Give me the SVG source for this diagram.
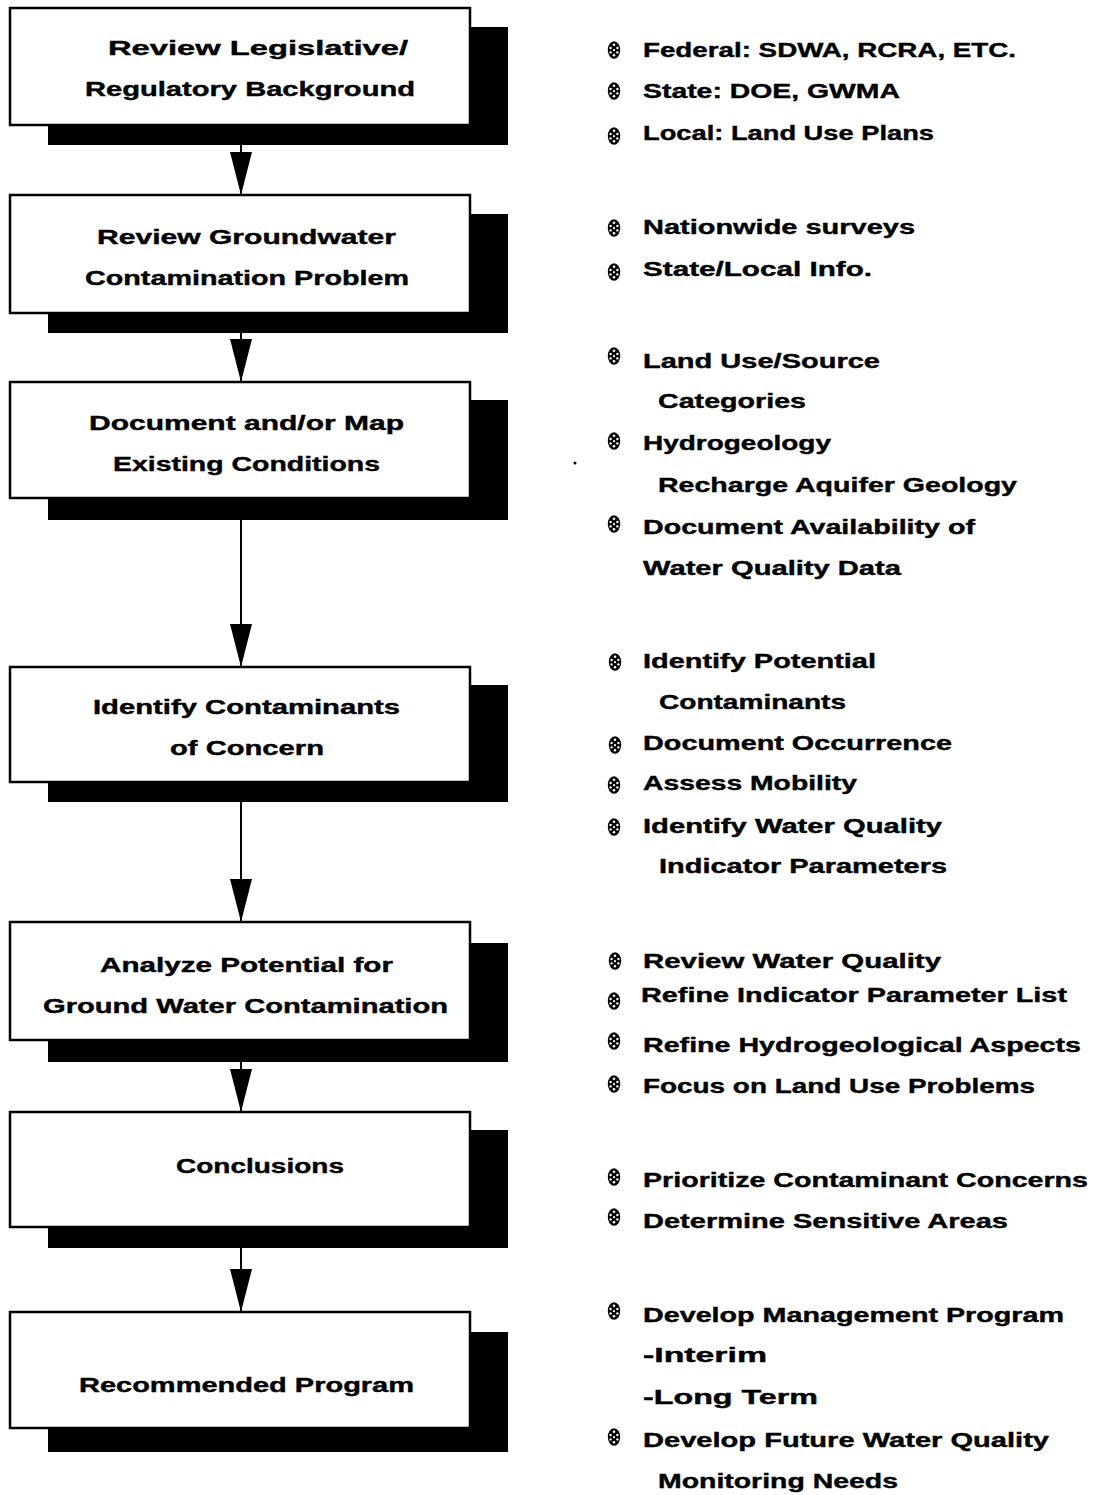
<svg xmlns="http://www.w3.org/2000/svg" width="1099" height="1495" viewBox="0 0 1099 1495">
<style>
.box{fill:#fff;stroke:#000;stroke-width:2.5}
.sh{fill:#000}
.t{font-family:"Liberation Sans",Arial,sans-serif;font-weight:bold;font-size:20.5px;fill:#000;stroke:#000;stroke-width:0.4}
.c{stroke:#000;stroke-width:2;fill:none}
</style>
<defs>
<marker id="ah" markerUnits="userSpaceOnUse" markerWidth="44" markerHeight="24" viewBox="0 0 44 24" refX="43" refY="12" orient="auto">
<path d="M0,1 L43,12 L0,23 z" fill="#000"/>
</marker>
<g id="bul">
<ellipse cx="0" cy="0" rx="6.2" ry="8.8" fill="#000"/>
<circle cx="0" cy="-5.2" r="1.3" fill="#fff"/>
<circle cx="0" cy="5.2" r="1.3" fill="#fff"/>
<circle cx="-3.4" cy="-2" r="1.2" fill="#fff"/>
<circle cx="3.4" cy="-2" r="1.2" fill="#fff"/>
<circle cx="-3.4" cy="2.4" r="1.2" fill="#fff"/>
<circle cx="3.4" cy="2.4" r="1.2" fill="#fff"/>
<circle cx="0" cy="0.2" r="1.1" fill="#fff"/>
</g>
</defs>
<rect width="1099" height="1495" fill="#fff"/>

<g id="connectors">
<line class="c" x1="241" y1="125" x2="241" y2="195" marker-end="url(#ah)"/>
<line class="c" x1="241" y1="313" x2="241" y2="382" marker-end="url(#ah)"/>
<line class="c" x1="241" y1="498" x2="241" y2="667" marker-end="url(#ah)"/>
<line class="c" x1="241" y1="782" x2="241" y2="922" marker-end="url(#ah)"/>
<line class="c" x1="241" y1="1040" x2="241" y2="1112" marker-end="url(#ah)"/>
<line class="c" x1="241" y1="1227" x2="241" y2="1312" marker-end="url(#ah)"/>
</g>

<g id="node1">
<rect class="sh" x="48" y="27" width="460" height="118"/>
<rect class="box" x="10" y="8" width="460" height="117"/>
<text class="t" x="108" y="55" textLength="300" lengthAdjust="spacingAndGlyphs">Review Legislative/</text>
<text class="t" x="85" y="96" textLength="330" lengthAdjust="spacingAndGlyphs">Regulatory Background</text>
</g>
<g id="node2">
<rect class="sh" x="48" y="214" width="460" height="119"/>
<rect class="box" x="10" y="195" width="460" height="118"/>
<text class="t" x="97" y="244" textLength="299" lengthAdjust="spacingAndGlyphs">Review Groundwater</text>
<text class="t" x="85" y="285" textLength="324" lengthAdjust="spacingAndGlyphs">Contamination Problem</text>
</g>
<g id="node3">
<rect class="sh" x="48" y="400" width="460" height="120"/>
<rect class="box" x="10" y="382" width="460" height="116"/>
<text class="t" x="89" y="430" textLength="315" lengthAdjust="spacingAndGlyphs">Document and/or Map</text>
<text class="t" x="113" y="471" textLength="267" lengthAdjust="spacingAndGlyphs">Existing Conditions</text>
</g>
<g id="node4">
<rect class="sh" x="48" y="685" width="460" height="117"/>
<rect class="box" x="10" y="667" width="460" height="115"/>
<text class="t" x="93" y="714" textLength="307" lengthAdjust="spacingAndGlyphs">Identify Contaminants</text>
<text class="t" x="170" y="755" textLength="154" lengthAdjust="spacingAndGlyphs">of Concern</text>
</g>
<g id="node5">
<rect class="sh" x="48" y="943" width="460" height="119"/>
<rect class="box" x="10" y="922" width="460" height="118"/>
<text class="t" x="100" y="972" textLength="293" lengthAdjust="spacingAndGlyphs">Analyze Potential for</text>
<text class="t" x="43" y="1013" textLength="405" lengthAdjust="spacingAndGlyphs">Ground Water Contamination</text>
</g>
<g id="node6">
<rect class="sh" x="48" y="1130" width="460" height="118"/>
<rect class="box" x="10" y="1112" width="460" height="115"/>
<text class="t" x="176" y="1173" textLength="168" lengthAdjust="spacingAndGlyphs">Conclusions</text>
</g>
<g id="node7">
<rect class="sh" x="48" y="1332" width="460" height="120"/>
<rect class="box" x="10" y="1312" width="460" height="116"/>
<text class="t" x="79" y="1392" textLength="335" lengthAdjust="spacingAndGlyphs">Recommended Program</text>
</g>

<g id="notes">
<use href="#bul" x="614" y="50"/>
<text class="t" x="643" y="57" textLength="373" lengthAdjust="spacingAndGlyphs">Federal: SDWA, RCRA, ETC.</text>
<use href="#bul" x="614" y="91"/>
<text class="t" x="643" y="98" textLength="257" lengthAdjust="spacingAndGlyphs">State:  DOE, GWMA</text>
<use href="#bul" x="614" y="136"/>
<text class="t" x="643" y="140" textLength="291" lengthAdjust="spacingAndGlyphs">Local: Land Use Plans</text>

<use href="#bul" x="614" y="228"/>
<text class="t" x="643" y="234" textLength="272" lengthAdjust="spacingAndGlyphs">Nationwide surveys</text>
<use href="#bul" x="614" y="272"/>
<text class="t" x="643" y="276" textLength="229" lengthAdjust="spacingAndGlyphs">State/Local Info.</text>

<use href="#bul" x="614" y="356"/>
<text class="t" x="643" y="368" textLength="237" lengthAdjust="spacingAndGlyphs">Land Use/Source</text>
<text class="t" x="658" y="408" textLength="148" lengthAdjust="spacingAndGlyphs">Categories</text>
<use href="#bul" x="614" y="441"/>
<text class="t" x="643" y="450" textLength="188" lengthAdjust="spacingAndGlyphs">Hydrogeology</text>
<text class="t" x="658" y="492" textLength="359" lengthAdjust="spacingAndGlyphs">Recharge Aquifer Geology</text>
<use href="#bul" x="614" y="524"/>
<text class="t" x="643" y="534" textLength="332" lengthAdjust="spacingAndGlyphs">Document Availability of</text>
<text class="t" x="643" y="575" textLength="258" lengthAdjust="spacingAndGlyphs">Water Quality Data</text>
<circle cx="575" cy="463" r="1.5" fill="#000"/>

<use href="#bul" x="615" y="662"/>
<text class="t" x="643" y="668" textLength="233" lengthAdjust="spacingAndGlyphs">Identify Potential</text>
<text class="t" x="659" y="709" textLength="187" lengthAdjust="spacingAndGlyphs">Contaminants</text>
<use href="#bul" x="615" y="745"/>
<text class="t" x="643" y="750" textLength="309" lengthAdjust="spacingAndGlyphs">Document Occurrence</text>
<use href="#bul" x="614" y="785"/>
<text class="t" x="643" y="790" textLength="214" lengthAdjust="spacingAndGlyphs">Assess Mobility</text>
<use href="#bul" x="614" y="827"/>
<text class="t" x="643" y="833" textLength="299" lengthAdjust="spacingAndGlyphs">Identify Water Quality</text>
<text class="t" x="659" y="873" textLength="288" lengthAdjust="spacingAndGlyphs">Indicator Parameters</text>

<use href="#bul" x="615" y="961"/>
<text class="t" x="643" y="968" textLength="298" lengthAdjust="spacingAndGlyphs">Review Water Quality</text>
<use href="#bul" x="614" y="1001"/>
<text class="t" x="641" y="1002" textLength="426" lengthAdjust="spacingAndGlyphs">Refine Indicator Parameter List</text>
<use href="#bul" x="614" y="1041"/>
<text class="t" x="643" y="1052" textLength="438" lengthAdjust="spacingAndGlyphs">Refine Hydrogeological Aspects</text>
<use href="#bul" x="614" y="1084"/>
<text class="t" x="643" y="1093" textLength="392" lengthAdjust="spacingAndGlyphs">Focus on Land Use Problems</text>

<use href="#bul" x="614" y="1177"/>
<text class="t" x="643" y="1187" textLength="445" lengthAdjust="spacingAndGlyphs">Prioritize Contaminant Concerns</text>
<use href="#bul" x="614" y="1217"/>
<text class="t" x="643" y="1228" textLength="365" lengthAdjust="spacingAndGlyphs">Determine Sensitive Areas</text>

<use href="#bul" x="614" y="1311"/>
<text class="t" x="643" y="1322" textLength="421" lengthAdjust="spacingAndGlyphs">Develop Management Program</text>
<text class="t" x="643" y="1362" textLength="124" lengthAdjust="spacingAndGlyphs">-Interim</text>
<text class="t" x="643" y="1404" textLength="175" lengthAdjust="spacingAndGlyphs">-Long Term</text>
<use href="#bul" x="614" y="1437"/>
<text class="t" x="643" y="1447" textLength="406" lengthAdjust="spacingAndGlyphs">Develop Future Water Quality</text>
<text class="t" x="658" y="1488" textLength="240" lengthAdjust="spacingAndGlyphs">Monitoring Needs</text>
</g>
</svg>
